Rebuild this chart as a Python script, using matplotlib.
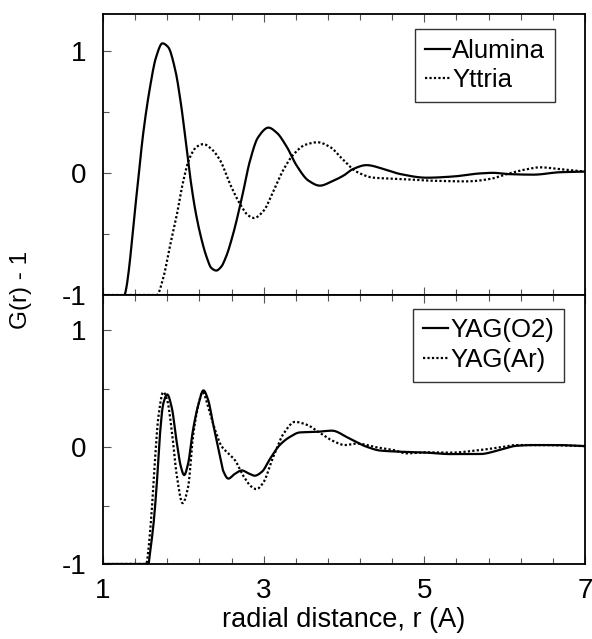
import numpy as np
import matplotlib
matplotlib.use("Agg")
import matplotlib.pyplot as plt
from matplotlib.ticker import FixedLocator, AutoMinorLocator

plt.rcParams['font.family'] = ['Liberation Sans', 'DejaVu Sans']
plt.rcParams['axes.unicode_minus'] = False

# ---- data ----
alumina_r = [1.0, 1.27, 1.42, 1.50, 1.585, 1.66, 1.74, 1.81, 1.90, 1.97, 2.03, 2.08, 2.15, 2.21,
             2.29, 2.35, 2.41, 2.47, 2.53, 2.62, 2.73, 2.83, 2.93, 3.06, 3.16, 3.29, 3.41, 3.56,
             3.70, 3.85, 4.00, 4.11, 4.28, 4.50, 4.70, 5.03, 5.36, 5.69, 5.86, 6.03, 6.36, 6.69, 7.0]
alumina_g = [-1.3, -1.0, -0.17, 0.32, 0.70, 0.945, 1.06, 1.03, 0.84, 0.565, 0.26, -0.01, -0.31, -0.5,
             -0.69, -0.78, -0.80, -0.77, -0.69, -0.5, -0.2, 0.1, 0.29, 0.37, 0.33, 0.21, 0.06, -0.065,
             -0.105, -0.07, -0.02, 0.03, 0.063, 0.03, -0.01, -0.04, -0.03, -0.005, 0.0, -0.01, -0.015, 0.005, 0.01]

yttria_r = [1.0, 1.67, 1.75, 1.83, 1.92, 2.0, 2.08, 2.17, 2.25, 2.35, 2.46, 2.58, 2.71, 2.81, 2.88,
            3.0, 3.12, 3.25, 3.37, 3.52, 3.67, 3.83, 3.97, 4.16, 4.37, 4.70, 5.11, 5.53, 5.82,
            6.03, 6.28, 6.44, 6.69, 7.0]
yttria_g = [-1.0, -1.0, -0.86, -0.61, -0.34, -0.065, 0.125, 0.215, 0.235, 0.195, 0.10, -0.09, -0.26, -0.35, -0.37,
            -0.31, -0.15, 0.03, 0.15, 0.23, 0.25, 0.21, 0.12, 0.008, -0.04, -0.05, -0.065, -0.07, -0.05,
            -0.01, 0.03, 0.045, 0.03, 0.01]

yag_o2_r = [1.0, 1.565, 1.585, 1.63, 1.67, 1.71, 1.75, 1.80, 1.855, 1.92, 1.97, 2.01, 2.06, 2.12, 2.19,
            2.25, 2.31, 2.37, 2.44, 2.50, 2.56, 2.64, 2.73, 2.81, 2.89, 2.98, 3.08, 3.20, 3.33,
            3.45, 3.66, 3.85, 4.05, 4.28, 4.45, 4.70, 5.03, 5.32, 5.69, 5.94, 6.15, 6.36, 6.65, 7.0]
yag_o2_g = [-1.0, -1.0, -0.905, -0.65, -0.31, 0.117, 0.37, 0.45, 0.34, 0.03, -0.17, -0.24, -0.14, 0.145, 0.37,
            0.485, 0.40, 0.2, -0.025, -0.21, -0.27, -0.23, -0.2, -0.225, -0.245, -0.21, -0.1, 0.017, 0.088,
            0.125, 0.13, 0.14, 0.08, 0.003, -0.03, -0.04, -0.048, -0.06, -0.06, -0.025, 0.011, 0.017, 0.017, 0.008]

yag_ar_r = [1.0, 1.54, 1.565, 1.61, 1.65, 1.69, 1.75, 1.80, 1.855, 1.92, 1.99, 2.06, 2.12, 2.19, 2.24,
            2.31, 2.395, 2.48, 2.56, 2.64, 2.75, 2.85, 2.91, 2.99, 3.12, 3.25, 3.39, 3.54, 3.68,
            3.87, 4.01, 4.16, 4.41, 4.62, 4.78, 5.03, 5.32, 5.69, 5.94, 6.15, 6.44, 7.0]
yag_ar_g = [-1.0, -1.0, -0.88, -0.51, -0.08, 0.26, 0.47, 0.40, 0.145, -0.25, -0.48, -0.34, 0.088, 0.37, 0.47,
            0.34, 0.145, 0.003, -0.054, -0.11, -0.25, -0.34, -0.36, -0.31, -0.083, 0.117, 0.215, 0.19, 0.13,
            0.05, 0.017, 0.03, -0.003, -0.026, -0.054, -0.045, -0.048, -0.026, -0.003, 0.017, 0.017, 0.008]

x_ticks = [1, 3, 5, 7]
y_ticks = [-1, 0, 1]


def smooth(r, g, n=600):
    r = np.asarray(r, float)
    g = np.asarray(g, float)
    # monotone cubic (PCHIP-like) interpolation for a smooth curve through the read points
    h = np.diff(r)
    d = np.diff(g) / h
    m = np.zeros_like(g)
    for i in range(1, len(g) - 1):
        if d[i - 1] * d[i] <= 0:
            m[i] = 0
        else:
            w1 = 2 * h[i] + h[i - 1]
            w2 = h[i] + 2 * h[i - 1]
            m[i] = (w1 + w2) / (w1 / d[i - 1] + w2 / d[i])
    m[0] = d[0]
    m[-1] = d[-1]
    xs = np.linspace(r[0], r[-1], n)
    idx = np.clip(np.searchsorted(r, xs) - 1, 0, len(r) - 2)
    t = (xs - r[idx]) / h[idx]
    h00 = 2 * t**3 - 3 * t**2 + 1
    h10 = t**3 - 2 * t**2 + t
    h01 = -2 * t**3 + 3 * t**2
    h11 = t**3 - t**2
    ys = h00 * g[idx] + h10 * h[idx] * m[idx] + h01 * g[idx + 1] + h11 * h[idx] * m[idx + 1]
    return xs, ys


W, H = 592, 639
fig = plt.figure(figsize=(W / 100, H / 100), dpi=100)
L, R = 103 / W, 585 / W
ax1 = fig.add_axes([L, 1 - 295 / H, R - L, (295 - 14) / H])
ax2 = fig.add_axes([L, 1 - 564 / H, R - L, (564 - 295) / H])

lw = 1.6
for ax in (ax1, ax2):
    ax.set_xlim(1, 7)
    ax.set_ylim(-1, 1.3)
    ax.xaxis.set_major_locator(FixedLocator(x_ticks))
    ax.xaxis.set_minor_locator(AutoMinorLocator(5))
    ax.yaxis.set_major_locator(FixedLocator(y_ticks))
    ax.yaxis.set_minor_locator(AutoMinorLocator(2))
    ax.tick_params(which='both', direction='in', top=True, right=False, labelsize=20,
                   width=0.8, color='#555555')
    ax.tick_params(which='major', length=6)
    ax.tick_params(which='minor', length=4)
    ax.tick_params(axis='y', pad=12)
    ax.tick_params(axis='x', pad=10)
    for s in ax.spines.values():
        s.set_linewidth(1.3)

ax1.tick_params(labelbottom=False)

x, y = smooth(alumina_r, alumina_g)
ax1.plot(x, y, color='black', lw=lw, ls='-', label='Alumina')
x, y = smooth(yttria_r, yttria_g)
ax1.plot(x, y, color='black', lw=lw, ls=(0, (1, 1)), label='Yttria')

x, y = smooth(yag_o2_r, yag_o2_g)
ax2.plot(x, y, color='black', lw=lw, ls='-', label='YAG(O2)')
x, y = smooth(yag_ar_r, yag_ar_g)
ax2.plot(x, y, color='black', lw=lw, ls=(0, (1, 1)), label='YAG(Ar)')

for ax, loc in ((ax1, (0.647, 0.687)), (ax2, (0.643, 0.677))):
    leg = ax.legend(loc='lower left', bbox_to_anchor=loc, fontsize=18.5, frameon=True,
                    fancybox=False, edgecolor='black', handlelength=1.0, handletextpad=0.08,
                    borderpad=0.38, labelspacing=0.22, borderaxespad=0.0)
    leg.get_frame().set_linewidth(1.0)

ax2.set_xlabel('radial distance, r (A)', fontsize=19.5, labelpad=2)
fig.text(21 / W, 1 - 290 / H, 'G(r) - 1', rotation=90, fontsize=17.5, ha='center', va='center')

fig.savefig('out.png', dpi=100)
